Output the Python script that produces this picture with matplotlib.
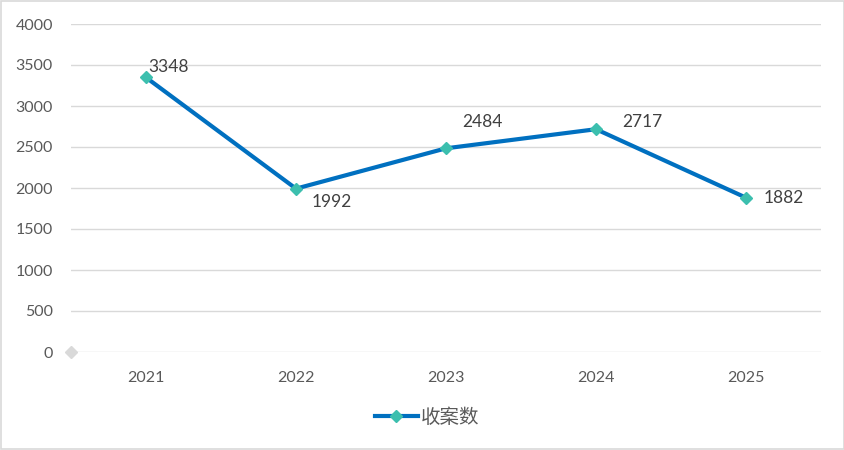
import matplotlib.pyplot as plt
from matplotlib.patches import Rectangle

plt.rcParams['font.family'] = ['Lato', 'Noto Sans CJK SC', 'DejaVu Sans']

years = ['2021', '2022', '2023', '2024', '2025']
cases = [3348, 1992, 2484, 2717, 1882]
# label offsets in pixels (dx, dy) relative to each point
label_offsets = [(2, 10), (16, -13), (16, 26), (26, 7), (18, 0)]

fig = plt.figure(figsize=(8.45, 4.5), dpi=100)
fig.patches.append(Rectangle((0.001, 0.002), 0.998, 0.996, transform=fig.transFigure,
                             fill=False, edgecolor='#D9D9D9', linewidth=1.2))
ax = fig.add_axes([71 / 845, 1 - 352 / 450, 750 / 845, 328 / 450])

x = list(range(len(years)))
line, = ax.plot(x, cases, color='#0070C0', linewidth=3, marker='D', markersize=6.5,
                markerfacecolor='#3CBFAE', markeredgecolor='#3CBFAE', label='收案数',
                zorder=3)
# stray gray marker at the axis origin
ax.plot([-0.5], [0], marker='D', markersize=6, color='#D9D9D9', linestyle='none',
        clip_on=False, zorder=3)

for xi, v, (dx, dy) in zip(x, cases, label_offsets):
    ax.annotate(str(v), (xi, v), xytext=(dx * 0.72, dy * 0.72), textcoords='offset points',
                ha='left', va='center', fontsize=12.5, color='#404040')

ax.set_xlim(-0.5, len(years) - 0.5)
ax.set_ylim(0, 4000)
ax.set_yticks(range(0, 4001, 500))
ax.set_xticks(x)
ax.set_xticklabels(years)
ax.grid(axis='y', color='#D9D9D9', linewidth=1)
ax.set_axisbelow(True)
for s in ax.spines.values():
    s.set_visible(False)
ax.tick_params(length=0, labelsize=11.5, labelcolor='#595959')
ax.tick_params(axis='y', pad=13)
ax.tick_params(axis='x', pad=14)

fig.legend(handles=[line], loc='center', bbox_to_anchor=(427 / 845, 1 - 417 / 450),
           frameon=False, fontsize=14, handlelength=2.2, handletextpad=0.15,
           labelcolor='#595959')

fig.savefig('out.png', dpi=100)
